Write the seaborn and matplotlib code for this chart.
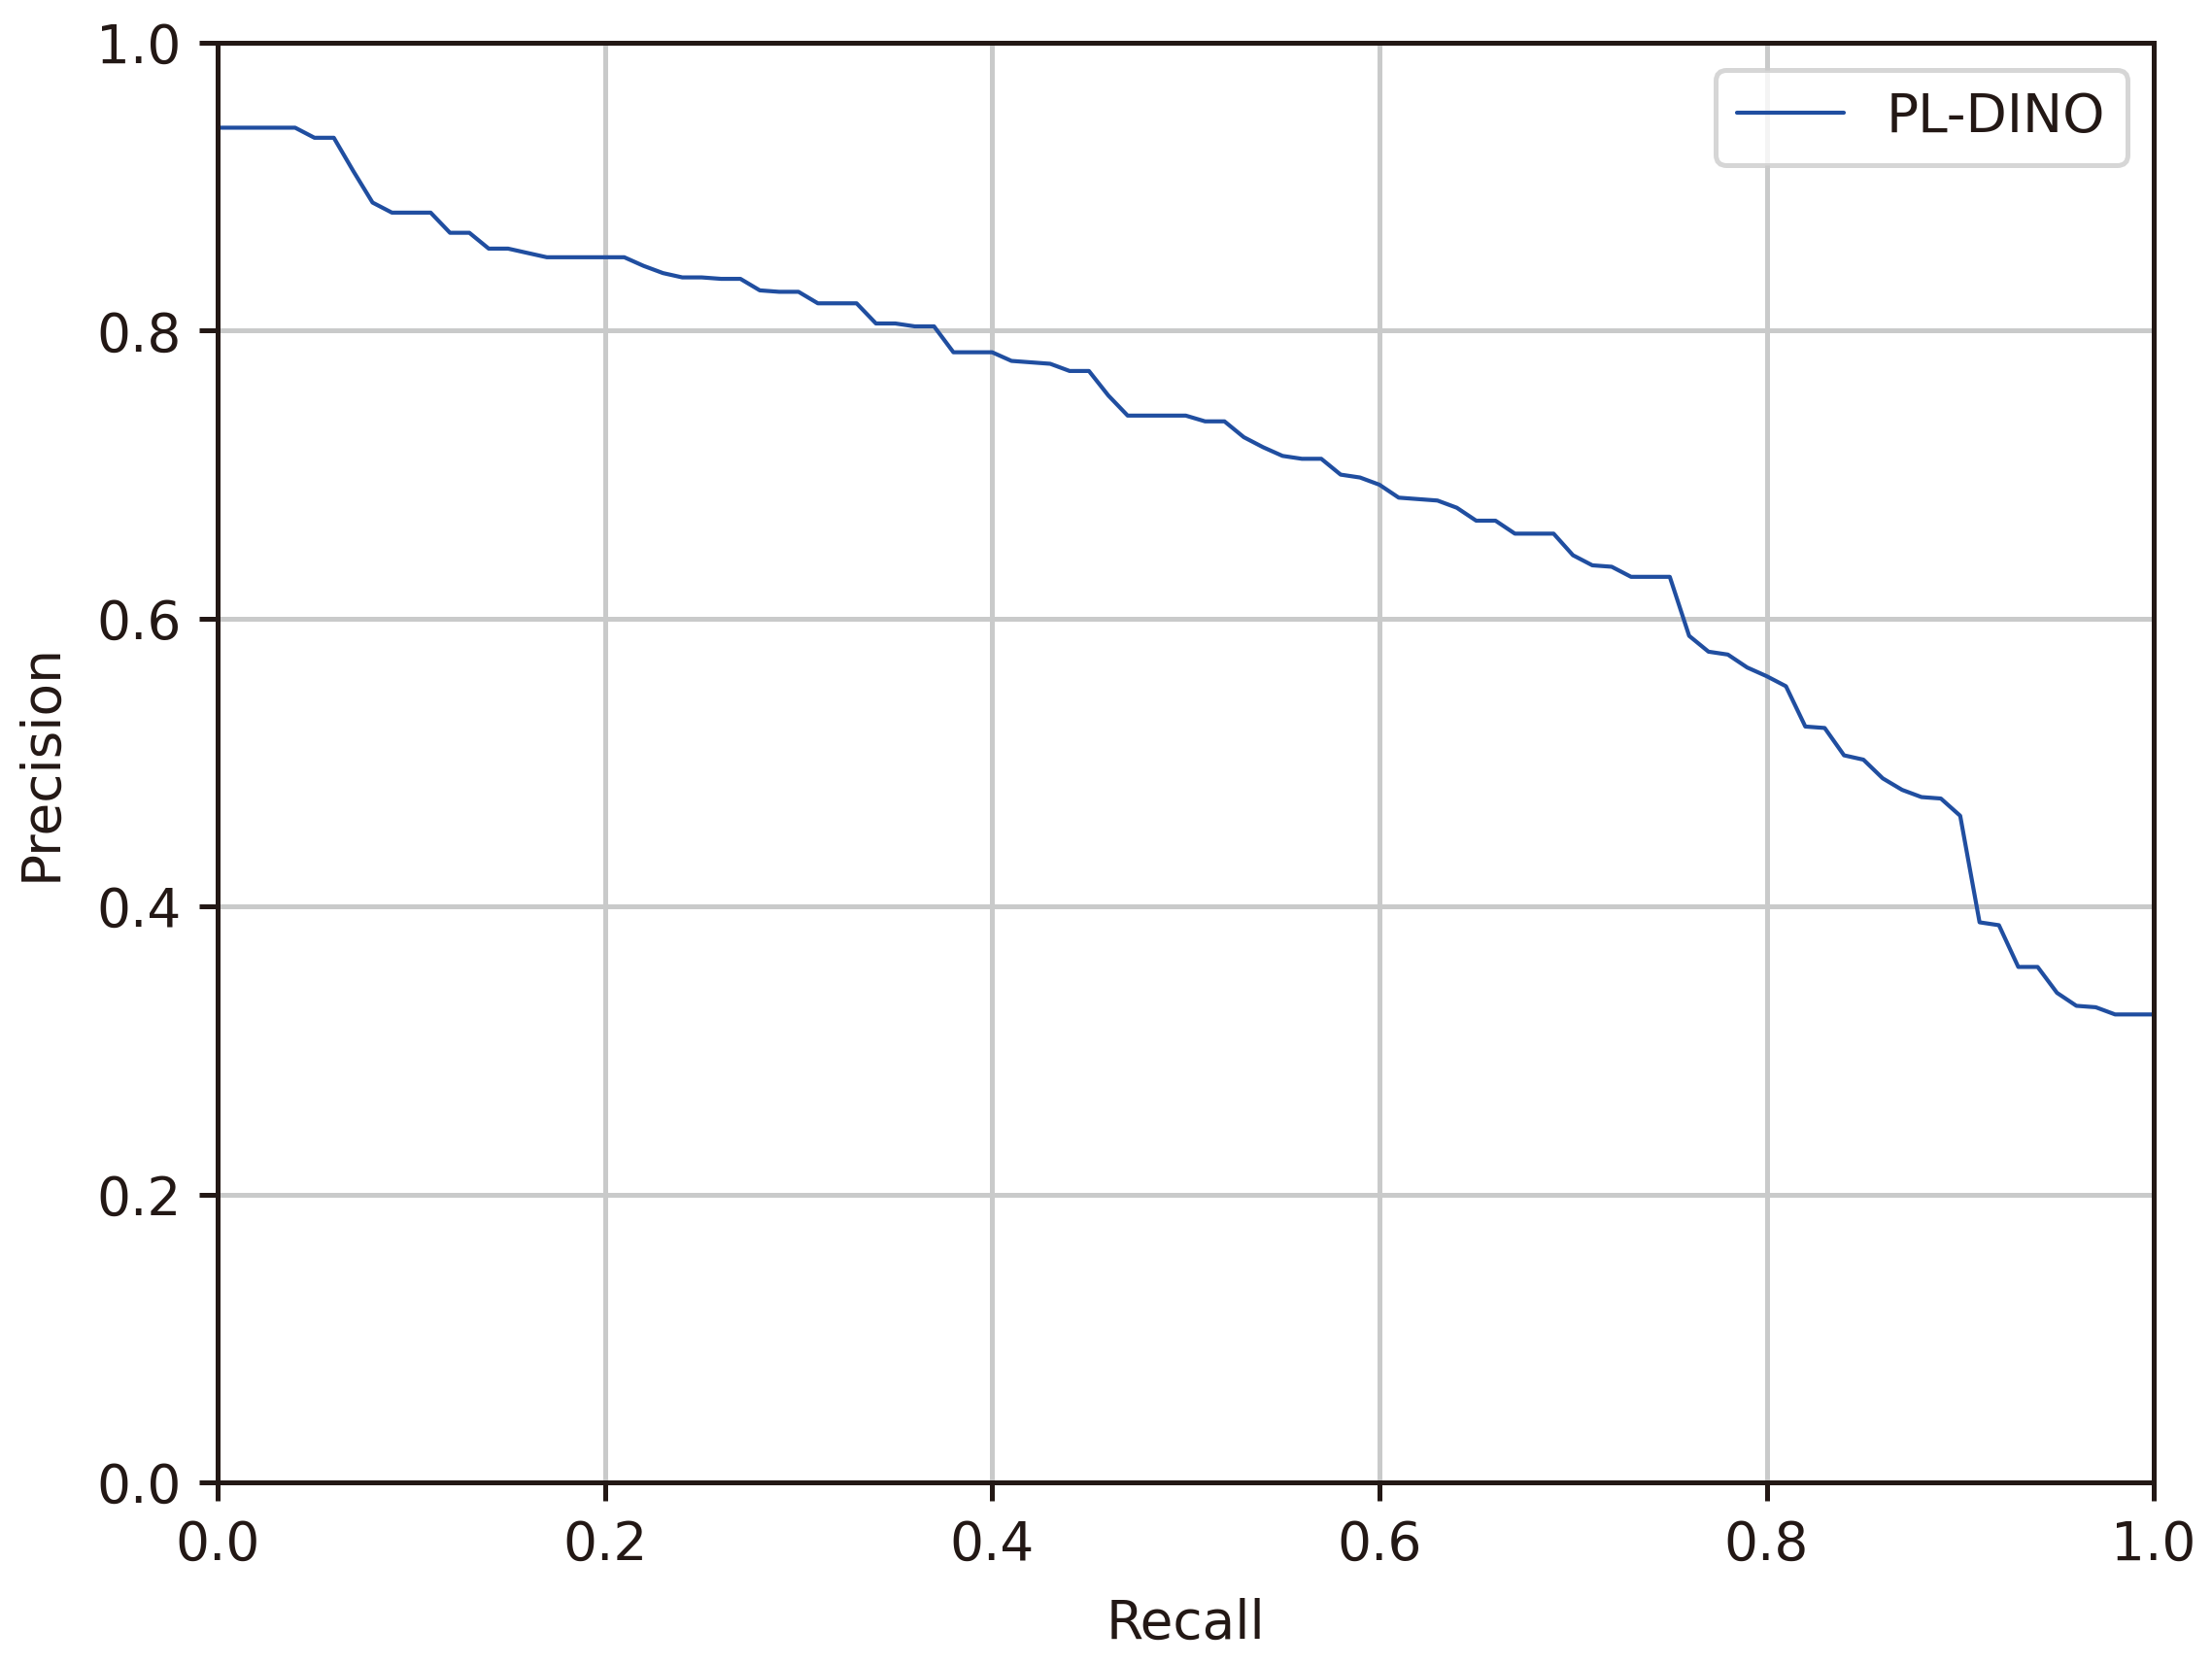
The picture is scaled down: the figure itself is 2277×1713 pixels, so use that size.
import numpy as np
import pandas as pd
import matplotlib
matplotlib.use("Agg")
import matplotlib.pyplot as plt
import seaborn as sns

recall = [round(i * 0.01, 2) for i in range(101)]
precision = [
    0.941, 0.941, 0.941, 0.941, 0.941, 0.934, 0.934, 0.911, 0.889, 0.882,
    0.882, 0.882, 0.868, 0.868, 0.857, 0.857, 0.854, 0.851, 0.851, 0.851,
    0.851, 0.851, 0.845, 0.840, 0.837, 0.837, 0.836, 0.836, 0.828, 0.827,
    0.827, 0.819, 0.819, 0.819, 0.805, 0.805, 0.803, 0.803, 0.785, 0.785,
    0.785, 0.779, 0.778, 0.777, 0.772, 0.772, 0.755, 0.741, 0.741, 0.741,
    0.741, 0.737, 0.737, 0.726, 0.719, 0.713, 0.711, 0.711, 0.700, 0.698,
    0.693, 0.684, 0.683, 0.682, 0.677, 0.668, 0.668, 0.659, 0.659, 0.659,
    0.644, 0.637, 0.636, 0.629, 0.629, 0.629, 0.588, 0.577, 0.575, 0.566,
    0.560, 0.553, 0.525, 0.524, 0.505, 0.502, 0.489, 0.481, 0.476, 0.475,
    0.463, 0.389, 0.387, 0.358, 0.358, 0.340, 0.331, 0.330, 0.325, 0.325,
    0.325,
]
label = "PL-DINO"

df = pd.DataFrame({"Recall": recall, "Precision": precision, "model": label})

ink = "#231815"
sns.set_style("whitegrid", {
    "axes.edgecolor": ink,
    "grid.color": "#c9caca",
    "xtick.bottom": True,
    "ytick.left": True,
    "xtick.color": ink,
    "ytick.color": ink,
    "text.color": ink,
    "axes.labelcolor": ink,
})
plt.rcParams["font.family"] = ["DejaVu Sans"]
plt.rcParams["axes.linewidth"] = 1.2
plt.rcParams["grid.linewidth"] = 1.2
plt.rcParams["xtick.major.width"] = 1.2
plt.rcParams["ytick.major.width"] = 1.2
plt.rcParams["xtick.major.size"] = 4.5
plt.rcParams["ytick.major.size"] = 4.5

fs = 13.2
fig = plt.figure(figsize=(2277 / 300, 1713 / 300), dpi=300)
ax = fig.add_axes([0.0984, 0.1092, 0.8753, 0.8651])

sns.lineplot(data=df, x="Recall", y="Precision", hue="model",
             palette=["#204ea0"], linewidth=1.0, ax=ax)

ax.set_xlim(0, 1)
ax.set_ylim(0, 1)
ax.set_xticks(np.arange(0, 1.01, 0.2))
ax.set_yticks(np.arange(0, 1.01, 0.2))
ax.tick_params(labelsize=fs, pad=4.5)
ax.set_xlabel("Recall", fontsize=fs, labelpad=6.5)
ax.set_ylabel("Precision", fontsize=fs, labelpad=7)
for s in ax.spines.values():
    s.set_color(ink)

leg = ax.legend(loc="upper right", fontsize=fs, frameon=True)
leg.get_frame().set_edgecolor("#cccccc")
leg.get_frame().set_linewidth(1.2)

fig.savefig("out.png", dpi=300)
